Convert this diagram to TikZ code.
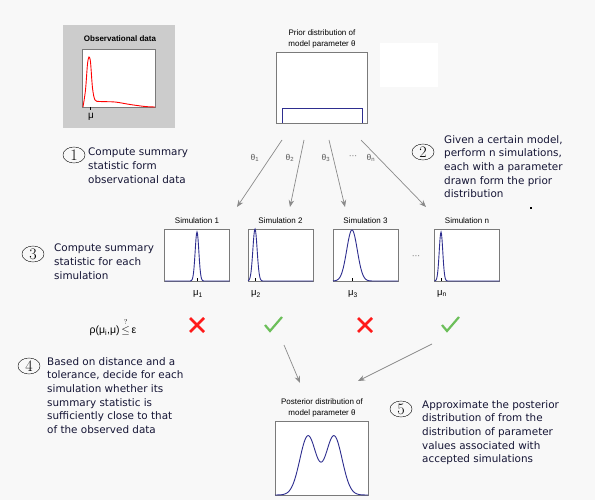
\documentclass[tikz,border=0pt]{standalone}
\usepackage{amsmath}
\usepackage{fontspec}
\newfontfamily\notefont{DejaVu Sans}
\newfontfamily\plotfont{Liberation Sans}
\usetikzlibrary{positioning,arrows.meta,shapes.geometric}
\definecolor{pagebg}{HTML}{F8F8F8}
\definecolor{panelgray}{HTML}{CCCCCC}
\definecolor{curveblue}{HTML}{2E2E8F}
\definecolor{arrowgray}{HTML}{8A8A8A}
\definecolor{framegray}{HTML}{7A7A7A}
\definecolor{notecolor}{HTML}{151535}
\definecolor{crossred}{HTML}{FF1A1A}
\definecolor{checkgreen}{HTML}{6CBF5A}

\begin{document}
\begin{tikzpicture}[
    x=1pt, y=-1pt,
    plotbox/.style={draw=framegray, fill=white, inner sep=0, line width=0.6pt},
    plottitle/.style={font=\plotfont\fontsize{8}{11}\selectfont, align=center, inner sep=0},
    note/.style={font=\notefont\fontsize{10.4}{13.7}\selectfont, align=left, anchor=north west, inner sep=0, text=notecolor},
    stepnum/.style={draw, ellipse, minimum width=22, minimum height=16, inner sep=0, font=\rmfamily\fontsize{16}{16}\selectfont},
    curve/.style={curveblue, line width=0.9pt},
    arr/.style={-{Stealth[length=7pt, width=5.5pt]}, arrowgray, line width=0.7pt},
    paramlabel/.style={font=\plotfont\fontsize{8.5}{10}\selectfont, text=black!65, inner sep=0},
    mulabel/.style={font=\plotfont\fontsize{9.5}{10}\selectfont, inner sep=0},
    crossmark/.style={crossred, line width=2.8pt},
    checkmark/.style={checkgreen, line width=2.2pt}
]
    \fill[pagebg] (0,0) rectangle (595,500);
    \useasboundingbox (0,0) rectangle (595,500);

    % Observational data
    \fill[panelgray] (63,25) rectangle (175,128);
    \node[plottitle, font=\plotfont\bfseries\fontsize{8}{11}\selectfont] (obstitle) at (120,39) {Observational data};
    \node[plotbox, minimum width=73, minimum height=58] (obs) at (118.5,78) {};
    \draw[red, line width=0.9pt] plot[smooth] coordinates {(83,107) (85.5,90) (87.5,64) (89,57) (90.5,62) (92.5,88) (95,100) (100,101.5) (115,102) (130,104.5) (145,106.5) (155,107)};
    \draw (90,107) -- (90,110);
    \node[mulabel, font=\plotfont\fontsize{10}{10}\selectfont] (mu) at (91,117) {μ};

    % Prior
    \node[plottitle] (priortitle) at (322,39) {Prior distribution of\\model parameter θ};
    \node[plotbox, minimum width=91, minimum height=71] (prior) at (321.5,87.5) {};
    \draw[curveblue, line width=0.8pt] (282,123) -- (282,108) -- (362,108) -- (362,123);
    \fill[white] (380,43) rectangle (438,87);

    % Steps 1 and 2
    \node[stepnum] (num1) at (74,155) {1};
    \node[note] (note1) at (88,148) {Compute summary\\statistic form\\observational data};
    \node[stepnum] (num2) at (423,152) {2};
    \node[note] (note2) at (444,135) {Given a certain model,\\perform n simulations,\\each with a parameter\\drawn form the prior\\distribution};
    \fill (530,207) rectangle (532,209);

    % Sampling arrows
    \coordinate (s1) at (282,140);
    \coordinate (s2) at (304,140);
    \coordinate (s3) at (329,140);
    \coordinate (sn) at (361,140);
    \coordinate (e1) at (237,207);
    \coordinate (e2) at (290,207);
    \coordinate (e3) at (345,207);
    \coordinate (en) at (426,207);
    \draw[arr] (s1) -- (e1);
    \draw[arr] (s2) -- (e2);
    \draw[arr] (s3) -- (e3);
    \draw[arr] (sn) -- (en);
    \node[paramlabel] (th1) at (255,158) {θ\textsubscript{1}};
    \node[paramlabel] (th2) at (290,158) {θ\textsubscript{2}};
    \node[paramlabel] (th3) at (326,158) {θ\textsubscript{3}};
    \node[paramlabel] (thdots) at (353,157) {···};
    \node[paramlabel] (thn) at (371,158) {θ\textsubscript{n}};

    % Simulations
    \node[plotbox, minimum width=65, minimum height=52] (sim1) at (197,255) {};
    \node[plotbox, minimum width=65, minimum height=52] (sim2) at (280.5,255) {};
    \node[plotbox, minimum width=65, minimum height=52] (sim3) at (365.5,255) {};
    \node[plotbox, minimum width=65, minimum height=52] (simn) at (467,255) {};
    \node[plottitle, above=5pt of sim1] (t1) {Simulation 1};
    \node[plottitle, above=5pt of sim2] (t2) {Simulation 2};
    \node[plottitle, above=5pt of sim3] (t3) {Simulation 3};
    \node[plottitle, above=5pt of simn] (tn) {Simulation n};
    \draw[curve] plot[domain=165:229.5, samples=130] (\x, {281-49*exp(-((\x-197)/2.6)^2)});
    \draw[curve] plot[domain=248:313, samples=130] (\x, {281-52*exp(-((\x-255)/3)^2)});
    \draw[curve] plot[domain=333:398, samples=130] (\x, {281-51*exp(-((\x-352)/7.5)^2)});
    \draw[curve] plot[domain=434.5:499.5, samples=130] (\x, {281-49*exp(-((\x-441)/2.5)^2)});
    \node[paramlabel] (simdots) at (416,257) {···};
    \draw (197,281) -- (197,278);
    \draw (255,281) -- (255,278);
    \draw (352,281) -- (352,278);
    \draw (441,281) -- (441,278);
    \node[mulabel] (mu1) at (198,294) {μ\textsubscript{1}};
    \node[mulabel] (mu2) at (256,294) {μ\textsubscript{2}};
    \node[mulabel] (mu3) at (353,294) {μ\textsubscript{3}};
    \node[mulabel] (mun) at (442,294) {μ\textsubscript{n}};

    % Step 3
    \node[stepnum] (num3) at (33,254) {3};
    \node[note] (note3) at (54,244) {Compute summary\\statistic for each\\simulation};

    % Acceptance
    \node[mulabel, font=\plotfont\fontsize{10.5}{10}\selectfont] (dist) at (113,327) {ρ(μ\textsubscript{i},μ)\,$\overset{?}{\le}$\,ε};
    \draw[crossmark] (197,325) +(-7,-7) -- +(7,7) +(-7,7) -- +(7,-7);
    \draw[checkmark] (273,325) +(-8,0) -- +(-3,6) -- +(9,-8);
    \draw[crossmark] (365,325) +(-7,-7) -- +(7,7) +(-7,7) -- +(7,-7);
    \draw[checkmark] (450,325) +(-8,0) -- +(-3,6) -- +(9,-8);
    \coordinate (a2) at (284,345);
    \coordinate (an) at (432,344);
    \coordinate (p2) at (300,383);
    \coordinate (pn) at (358,381);
    \draw[arr] (a2) -- (p2);
    \draw[arr] (an) -- (pn);

    % Step 4
    \node[stepnum] (num4) at (29,366) {4};
    \node[note] (note4) at (47,357) {Based on distance and a\\tolerance, decide for each\\simulation whether its\\summary statistic is\\sufficiently close to that\\of the observed data};

    % Posterior
    \node[plottitle] (posttitle) at (322,408) {Posterior distribution of\\model parameter θ};
    \node[plotbox, minimum width=93, minimum height=74] (post) at (321.5,458) {};
    \draw[curve] plot[domain=275:368, samples=150] (\x, {495-59*(exp(-((\x-308)/11.5)^2)+exp(-((\x-334)/11.5)^2))});

    % Step 5
    \node[stepnum] (num5) at (401,409) {5};
    \node[note] (note5) at (422,400) {Approximate the posterior\\distribution of from the\\distribution of parameter\\values associated with\\accepted simulations};
\end{tikzpicture}
\end{document}
